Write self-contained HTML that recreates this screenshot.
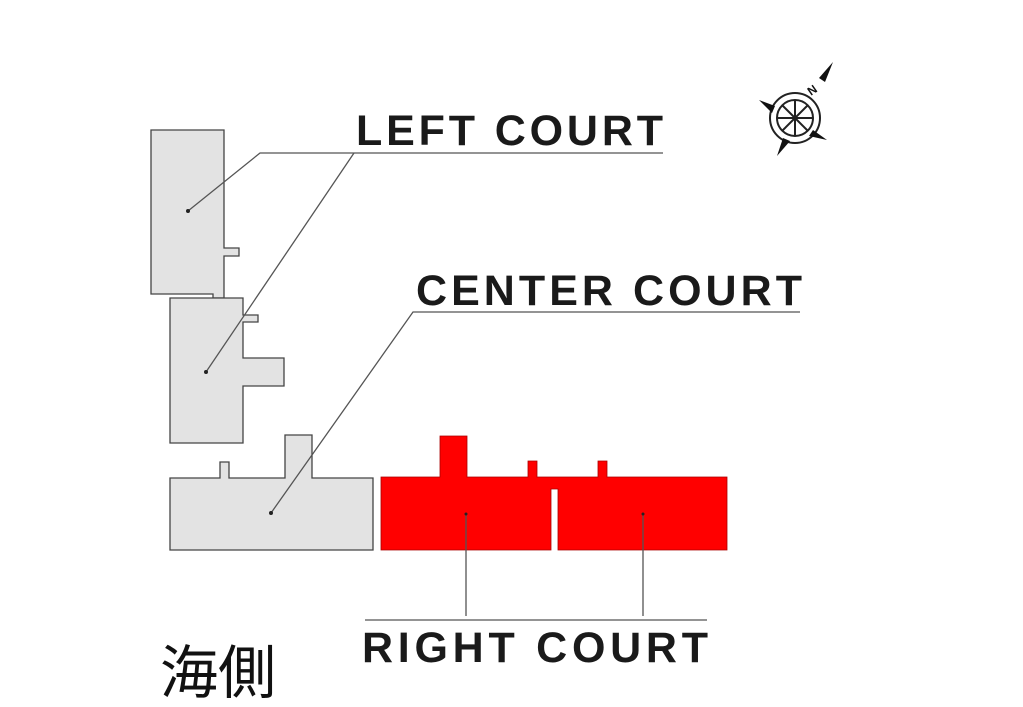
<!DOCTYPE html>
<html><head><meta charset="utf-8"><style>html,body{margin:0;padding:0;background:#fff}svg{display:block}</style></head>
<body>
<svg width="1023" height="707" viewBox="0 0 1023 707" xmlns="http://www.w3.org/2000/svg">
<rect width="1023" height="707" fill="#fff"/>
<g fill="#e3e3e3" stroke="#444" stroke-width="1.3">
<path d="M151,130 H224 V248 H239 V256 H224 V298 H213 V294 H151 Z"/>
<path d="M170,298 H243 V315 H258 V322 H243 V358 H284 V386 H243 V443 H170 Z"/>
<path d="M170,478 H220 V462 H229 V478 H285 V435 H312 V478 H373 V550 H170 Z"/>
</g>
<g fill="#ff0000" stroke="#a00" stroke-width="0.8">
<path d="M381,477 H440 V436 H467 V477 H528 V461 H537 V477 H598 V461 H607 V477 H727 V550 H558 V489 H551 V550 H381 Z"/>
</g>
<g stroke="#555" stroke-width="1.3" fill="none">
<polyline points="188,211 260,153 663,153"/>
<line x1="206" y1="372" x2="354" y2="153"/>
<polyline points="271,513 413,312 800,312"/>
<line x1="466" y1="514" x2="466" y2="616"/>
<line x1="643" y1="514" x2="643" y2="616"/>
<line x1="365" y1="620" x2="707" y2="620"/>
</g>
<g fill="#222">
<circle cx="188" cy="211" r="2"/><circle cx="206" cy="372" r="2"/><circle cx="271" cy="513" r="2"/>
<circle cx="466" cy="514" r="1.5"/><circle cx="643" cy="514" r="1.5"/>
</g>
<g font-family="Liberation Sans, sans-serif" font-size="43" font-weight="bold" fill="#1a1a1a">
<text x="356" y="145" textLength="307" lengthAdjust="spacing">LEFT COURT</text>
<text x="416" y="305" textLength="386" lengthAdjust="spacing">CENTER COURT</text>
<text x="362" y="662" textLength="346" lengthAdjust="spacing">RIGHT COURT</text>
</g>
<text x="160" y="693" font-family="Liberation Sans, Noto Sans CJK JP, sans-serif" font-size="58" fill="#111">海側</text>
<g transform="translate(795,118)" stroke="#222" fill="none" stroke-width="2">
<circle r="25"/><circle r="18"/>
<line x1="-18" y1="0" x2="18" y2="0"/><line x1="0" y1="-18" x2="0" y2="18"/>
<line x1="-13" y1="-13" x2="13" y2="13"/><line x1="-13" y1="13" x2="13" y2="-13"/>
<g fill="#111" stroke="none">
<polygon points="38,-56 30,-36 24,-40"/>
<polygon points="-36,-18 -20,-12 -23,-5"/>
<polygon points="-18,38 -12,20 -5,23"/>
<polygon points="32,22 18,12 14,18"/>
</g>
<text x="16" y="-22" font-family="Liberation Sans, sans-serif" font-size="12" font-weight="bold" fill="#111" stroke="none" transform="rotate(-35 16 -22)">N</text>
</g>
</svg>
</body></html>
